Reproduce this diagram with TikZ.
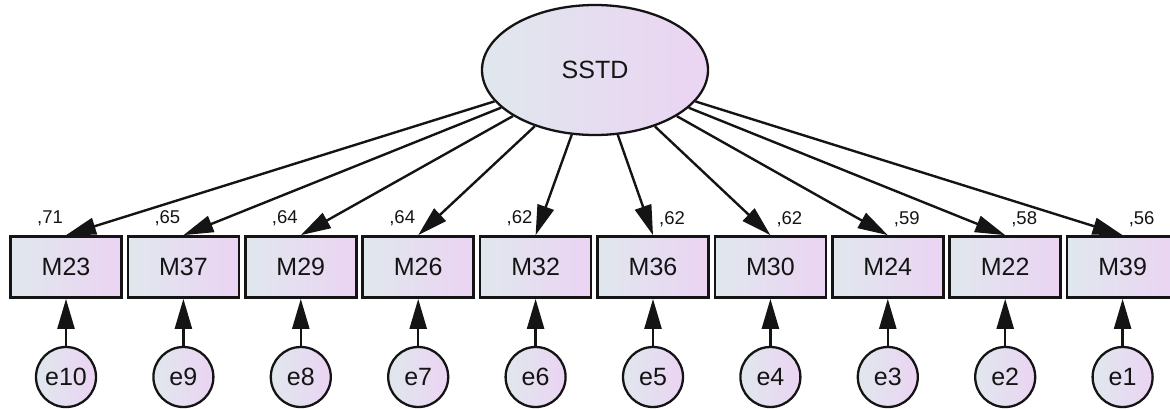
\documentclass[tikz,border=0pt]{standalone}
\usepackage{fontspec}
\setmainfont{Liberation Sans}
\usetikzlibrary{arrows.meta,shapes.geometric}
\definecolor{shadeL}{RGB}{224,231,237}
\definecolor{shadeR}{RGB}{235,212,243}
\definecolor{inkc}{RGB}{20,20,20}
\tikzset{
  latent/.style={ellipse, draw=inkc, line width=2.3pt, left color=shadeL, right color=shadeR,
    minimum width=226pt, minimum height=130pt, inner sep=0pt, font=\fontsize{25}{29}\selectfont, text=inkc},
  observed/.style={rectangle, draw=inkc, line width=2.7pt, left color=shadeL, right color=shadeR,
    minimum width=111pt, minimum height=61pt, inner sep=0pt, font=\fontsize{25}{29}\selectfont, text=inkc},
  errterm/.style={circle, draw=inkc, line width=2.3pt, left color=shadeL, right color=shadeR,
    minimum size=60pt, inner sep=0pt, font=\fontsize{25}{29}\selectfont, text=inkc},
  loading/.style={font=\fontsize{18.5}{21}\selectfont, text=inkc, inner sep=0pt},
  path arrow/.style={draw=inkc, line width=2.4pt, -{Triangle[length=30pt,width=17pt]}},
}
\begin{document}
\begin{tikzpicture}[x=1pt,y=-1pt]
  \useasboundingbox (0,0) rectangle (1170,408);
  % latent factor
  \node[latent] (S) at (595,70) {SSTD};
  % indicators, error terms and standardized loadings
  \foreach \i/\m/\e/\v in {0/M23/e10/71,1/M37/e9/65,2/M29/e8/64,3/M26/e7/64,4/M32/e6/62,
                           5/M36/e5/62,6/M30/e4/62,7/M24/e3/59,8/M22/e2/58,9/M39/e1/56}{
    \pgfmathsetmacro{\xc}{66+117.4*\i}
    \node[observed] (\m) at (\xc,267) {\m};
    \node[errterm] (\e) at (\xc,377) {\e};
    \draw[path arrow] (\e) -- (\m);
    \draw[path arrow] (S) -- (\m.north);
    \ifnum\i<5
      \node[loading] (L\m) at (\xc-16,218) {,\v};
    \else
      \node[loading] (L\m) at (\xc+19,219) {,\v};
    \fi
  }
\end{tikzpicture}
\end{document}
